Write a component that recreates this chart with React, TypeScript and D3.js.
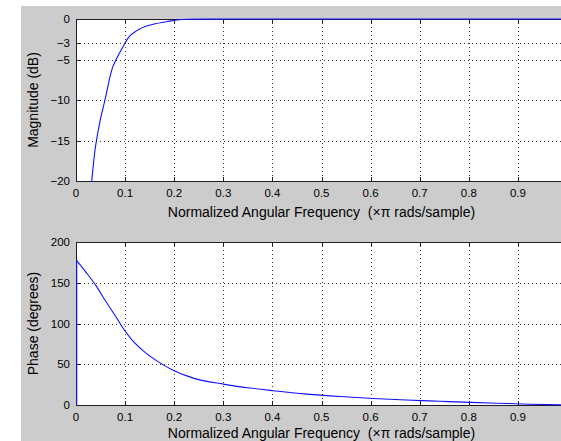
import React from "react";
import * as d3 from "d3";

// Frequency response of a 2nd-order highpass filter (freqz style figure)

const W = 561;
const H = 441;

const freqTicks = [0, 0.1, 0.2, 0.3, 0.4, 0.5, 0.6, 0.7, 0.8, 0.9, 1];
const freqTickLabels = ["0", "0.1", "0.2", "0.3", "0.4", "0.5", "0.6", "0.7", "0.8", "0.9", ""];
const magTicks = [0, -3, -5, -10, -15, -20];
const phaseTicks = [0, 50, 100, 150, 200];

// Magnitude response (dB) against normalized frequency (×π rad/sample)
const magFreq = [0.028, 0.032, 0.0387, 0.042, 0.05, 0.059, 0.069, 0.0727, 0.083, 0.096, 0.1066, 0.124, 0.151, 0.185, 0.205, 0.23, 0.27, 0.4, 0.6, 0.8, 1.0];
const magDb = [-22, -20, -16.2, -14.9, -12.3, -10, -7.2, -6.3, -4.85, -3.4, -2.3, -1.44, -0.74, -0.33, -0.12, -0.04, -0.01, 0, 0, 0, 0];

// Phase response (degrees)
const phaseFreq = [0, 0, 0.022, 0.042, 0.059, 0.079, 0.096, 0.113, 0.137, 0.164, 0.198, 0.239, 0.3, 0.354, 0.402, 0.47, 0.538, 0.605, 0.673, 0.741, 0.789, 0.857, 0.925, 1.0];
const phaseDeg = [0, 178, 161.6, 145.2, 128.8, 110.4, 94.1, 80.5, 66.5, 54.5, 42.5, 33.0, 25.6, 20.8, 17.5, 13.4, 10.4, 8.0, 6.1, 4.6, 3.5, 2.2, 1.0, 0];

const xLabel = "Normalized Angular Frequency  (×π rads/sample)";

const FONT = "'Liberation Sans', Arial, Helvetica, sans-serif";
const AXIS = "#1e1e1e";
const GRID = "#3a3a3a";
const LINE = "#1010ff";
const BG = "#cccccc";

const X0 = 76;
const X1 = 567;
const TICK = 4;

type PanelProps = {
  top: number;
  bottom: number;
  domain: [number, number];
  yTicks: number[];
  yLabel: string;
  fmt: (v: number) => string;
  labelOffset: number;
  children: (x: d3.ScaleLinear<number, number>, y: d3.ScaleLinear<number, number>) => React.ReactNode;
  id: string;
};

function Panel({ top, bottom, domain, yTicks, yLabel, fmt, labelOffset, children, id }: PanelProps) {
  const x = d3.scaleLinear().domain([0, 1]).range([X0, X1]);
  const y = d3.scaleLinear().domain(domain).range([bottom, top]);
  const yMid = (top + bottom) / 2;
  return (
    <g>
      <rect x={X0} y={top} width={X1 - X0} height={bottom - top} fill="#fff" />
      {/* dotted grid */}
      {freqTicks.slice(1, -1).map((t) => (
        <line key={"vx" + t} x1={Math.round(x(t)) + 0.5} x2={Math.round(x(t)) + 0.5} y1={top} y2={bottom}
          stroke={GRID} strokeWidth={1} strokeDasharray="1 3" />
      ))}
      {yTicks.filter((t) => t !== domain[0] && t !== domain[1]).map((t) => (
        <line key={"hy" + t} x1={X0} x2={X1} y1={Math.round(y(t)) + 0.5} y2={Math.round(y(t)) + 0.5}
          stroke={GRID} strokeWidth={1} strokeDasharray="1 3" />
      ))}
      {/* frame */}
      <line x1={X0 + 0.5} x2={X0 + 0.5} y1={top} y2={bottom + 0.5} stroke={AXIS} />
      <line x1={X0} x2={X1} y1={bottom + 0.5} y2={bottom + 0.5} stroke={AXIS} />
      <line x1={X0} x2={X1} y1={top + 0.5} y2={top + 0.5} stroke={AXIS} />
      {/* inward ticks */}
      {freqTicks.map((t, i) => (
        <g key={"tx" + t}>
          <line x1={Math.round(x(t)) + 0.5} x2={Math.round(x(t)) + 0.5} y1={bottom} y2={bottom - TICK} stroke={AXIS} />
          <line x1={Math.round(x(t)) + 0.5} x2={Math.round(x(t)) + 0.5} y1={top} y2={top + TICK} stroke={AXIS} />
          {freqTickLabels[i] && (
            <text x={x(t)} y={bottom + 16} textAnchor="middle" fontSize={11.5} fontFamily={FONT} fill="#000">
              {freqTickLabels[i]}
            </text>
          )}
        </g>
      ))}
      {yTicks.map((t) => (
        <g key={"ty" + t}>
          <line x1={X0} x2={X0 + TICK} y1={Math.round(y(t)) + 0.5} y2={Math.round(y(t)) + 0.5} stroke={AXIS} />
          <text x={X0 - 6} y={y(t)} dy="0.35em" textAnchor="end" fontSize={11.5} fontFamily={FONT} fill="#000">
            {fmt(t)}
          </text>
        </g>
      ))}
      <clipPath id={id}>
        <rect x={X0} y={top - 1} width={X1 - X0} height={bottom - top + 2} />
      </clipPath>
      <g clipPath={`url(#${id})`}>{children(x, y)}</g>
      <text x={(X0 + X1) / 2} y={bottom + labelOffset} textAnchor="middle" fontSize={14} fontFamily={FONT} fill="#000"
        style={{ whiteSpace: "pre" }}>
        {xLabel}
      </text>
      <text transform={`translate(38,${yMid}) rotate(-90)`} textAnchor="middle" fontSize={14} fontFamily={FONT} fill="#000">
        {yLabel}
      </text>
    </g>
  );
}

export default function App() {
  const magPts: [number, number][] = magFreq.map((f, i) => [f, magDb[i]]);
  const phasePts: [number, number][] = phaseFreq.map((f, i) => [f, phaseDeg[i]]);
  const minus = (v: number) => (v < 0 ? "\u2212" + Math.abs(v) : String(v));

  return (
    <svg width={W} height={H} style={{ position: "absolute", left: 0, top: 0, display: "block" }}>
      <rect x={0} y={0} width={W} height={H} fill="#fff" />
      <rect x={21} y={6} width={W - 21} height={H - 6} fill={BG} />
      <Panel top={19} bottom={181} domain={[-20, 0]} yTicks={magTicks} yLabel="Magnitude (dB)" fmt={minus}
        labelOffset={36} id="clipMag">
        {(x, y) => {
          const line = d3
            .line<[number, number]>()
            .x((d) => x(d[0]))
            .y((d) => y(d[1]))
            .curve(d3.curveMonotoneX);
          return <path d={line(magPts) ?? ""} fill="none" stroke={LINE} strokeWidth={1.1} />;
        }}
      </Panel>
      <Panel top={242} bottom={405} domain={[0, 200]} yTicks={phaseTicks} yLabel="Phase (degrees)" fmt={(v) => String(v)}
        labelOffset={33} id="clipPhase">
        {(x, y) => {
          const jump = d3
            .line<[number, number]>()
            .x((d) => x(d[0]) + 0.5)
            .y((d) => y(d[1]));
          const curve = d3
            .line<[number, number]>()
            .x((d) => x(d[0]))
            .y((d) => y(d[1]))
            .curve(d3.curveMonotoneX);
          return (
            <g>
              <path d={jump(phasePts.slice(0, 2)) ?? ""} fill="none" stroke={LINE} strokeWidth={1.5} />
              <path d={curve(phasePts.slice(1)) ?? ""} fill="none" stroke={LINE} strokeWidth={1.1} />
            </g>
          );
        }}
      </Panel>
    </svg>
  );
}
